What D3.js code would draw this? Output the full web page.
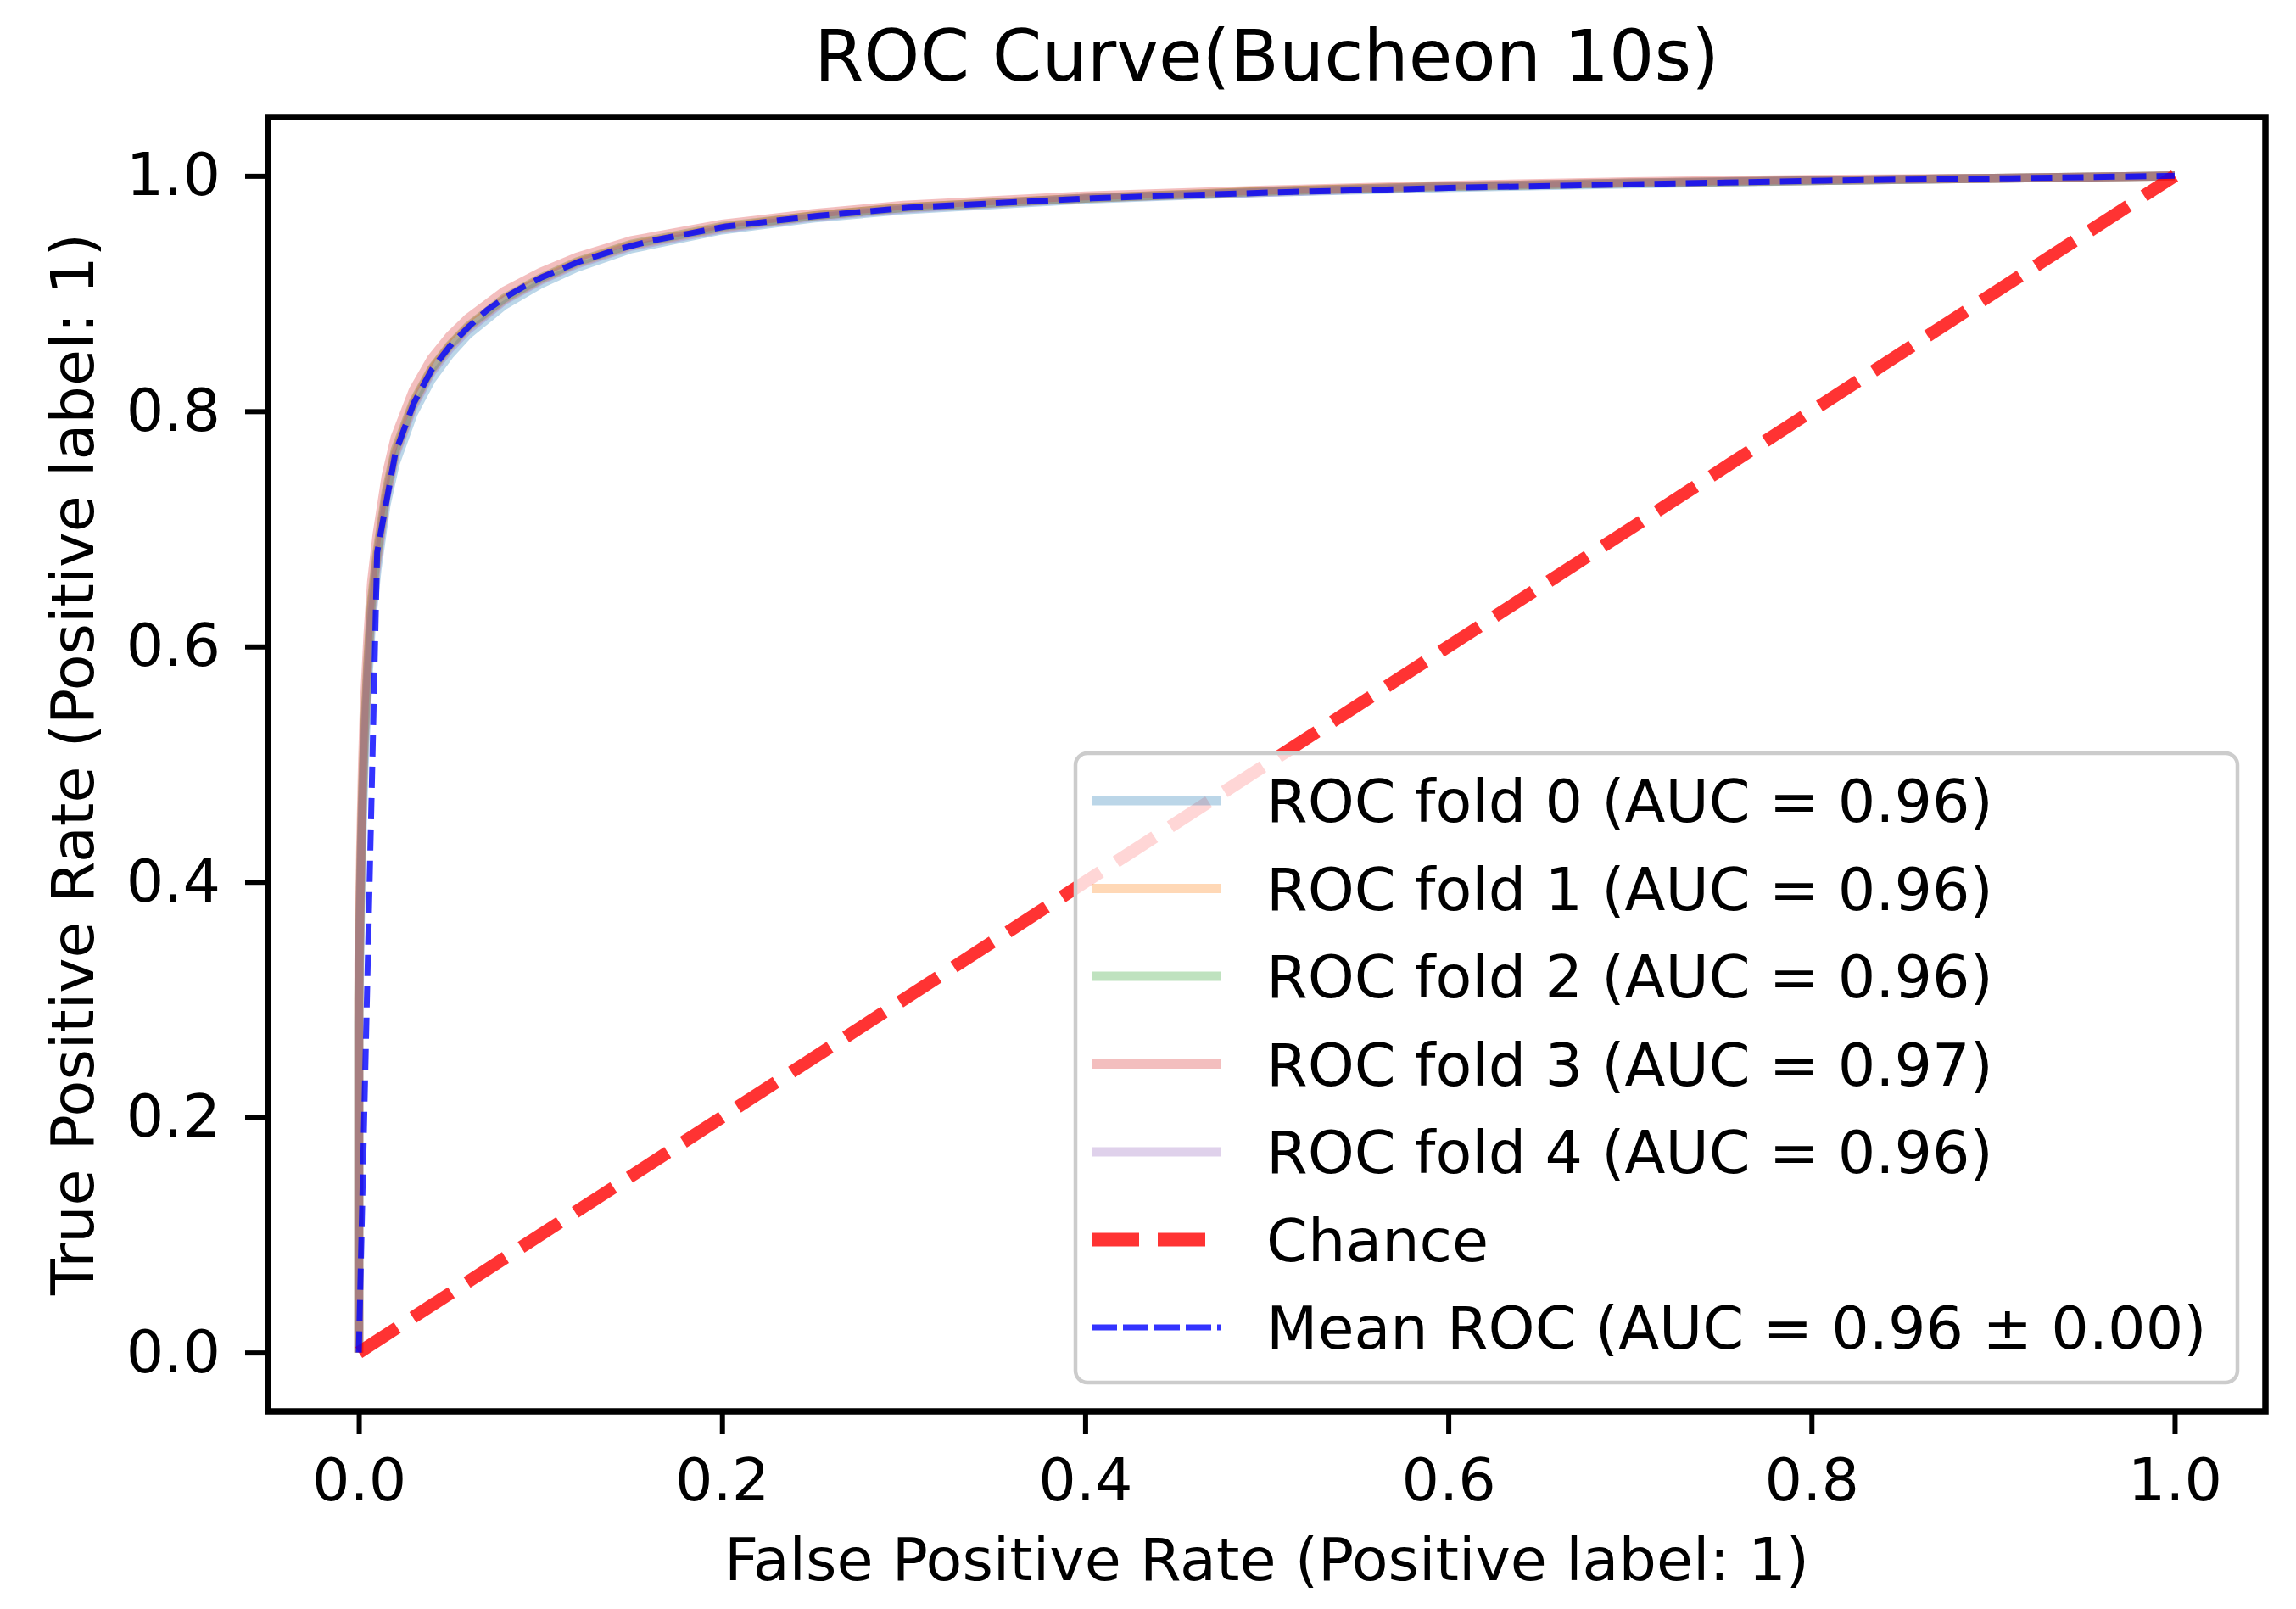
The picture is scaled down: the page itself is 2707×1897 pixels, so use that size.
<!DOCTYPE html>
<html>
<head>
<meta charset="utf-8">
<script src="https://cdn.jsdelivr.net/npm/d3@7/dist/d3.min.js"></script>
<style>
  body { margin: 0; background: #fff; }
  svg { display: block; font-family: "DejaVu Sans", sans-serif; }
</style>
</head>
<body>
<div id="chart"></div>
<script>
// fold curves as [fpr, tpr]
const fold0 = [[0,0],[0,0.28],[0.001,0.38],[0.002,0.45],[0.003,0.50],[0.005,0.57],[0.007,0.62],[0.010,0.665],[0.015,0.72],[0.020,0.755],[0.030,0.798],[0.040,0.827],[0.050,0.848],[0.060,0.865],[0.080,0.890],[0.100,0.908],[0.120,0.922],[0.150,0.938],[0.200,0.954],[0.250,0.964],[0.300,0.971],[0.400,0.980],[0.500,0.986],[0.600,0.990],[0.700,0.993],[0.800,0.996],[0.900,0.998],[1,1]];
const fold1 = [[0,0],[0,0.30],[0.001,0.40],[0.002,0.47],[0.003,0.52],[0.005,0.585],[0.007,0.635],[0.010,0.675],[0.015,0.728],[0.020,0.764],[0.030,0.806],[0.040,0.835],[0.050,0.855],[0.060,0.871],[0.080,0.895],[0.100,0.912],[0.120,0.926],[0.150,0.941],[0.200,0.956],[0.250,0.966],[0.300,0.973],[0.400,0.981],[0.500,0.987],[0.600,0.991],[0.700,0.994],[0.800,0.996],[0.900,0.998],[1,1]];
const fold2 = [[0,0],[0,0.31],[0.001,0.41],[0.002,0.475],[0.003,0.525],[0.005,0.59],[0.007,0.64],[0.010,0.68],[0.015,0.732],[0.020,0.767],[0.030,0.808],[0.040,0.836],[0.050,0.856],[0.060,0.872],[0.080,0.896],[0.100,0.913],[0.120,0.927],[0.150,0.942],[0.200,0.957],[0.250,0.966],[0.300,0.973],[0.400,0.981],[0.500,0.987],[0.600,0.991],[0.700,0.994],[0.800,0.996],[0.900,0.998],[1,1]];
const fold3 = [[0,0],[0,0.33],[0.001,0.43],[0.002,0.50],[0.003,0.55],[0.005,0.61],[0.007,0.655],[0.010,0.695],[0.015,0.745],[0.020,0.778],[0.030,0.818],[0.040,0.845],[0.050,0.864],[0.060,0.879],[0.080,0.902],[0.100,0.918],[0.120,0.931],[0.150,0.945],[0.200,0.959],[0.250,0.968],[0.300,0.975],[0.400,0.983],[0.500,0.988],[0.600,0.992],[0.700,0.995],[0.800,0.997],[0.900,0.998],[1,1]];
const fold4 = [[0,0],[0,0.30],[0.001,0.40],[0.002,0.465],[0.003,0.515],[0.005,0.58],[0.007,0.63],[0.010,0.672],[0.015,0.726],[0.020,0.762],[0.030,0.804],[0.040,0.833],[0.050,0.853],[0.060,0.869],[0.080,0.894],[0.100,0.911],[0.120,0.925],[0.150,0.940],[0.200,0.955],[0.250,0.965],[0.300,0.972],[0.400,0.981],[0.500,0.986],[0.600,0.991],[0.700,0.994],[0.800,0.996],[0.900,0.998],[1,1]];
const folds = [fold0, fold1, fold2, fold3, fold4];
const foldAuc = ['0.96', '0.96', '0.96', '0.97', '0.96'];
const foldColors = ['#1f77b4', '#ff7f0e', '#2ca02c', '#d62728', '#9467bd'];

// mean roc on the common fpr grid
const meanFpr = [0, 0.0101, 0.0202, 0.0303, 0.0404, 0.0505, 0.0606, 0.0707, 0.0808, 0.0909, 0.1010, 0.1212, 0.1414, 0.1616, 0.1818, 0.2020, 0.2525, 0.3030, 0.4040, 0.5051, 0.6061, 0.7071, 0.8081, 0.9091, 1];
const meanTpr = [0, 0.680, 0.765, 0.807, 0.836, 0.856, 0.872, 0.886, 0.897, 0.906, 0.914, 0.927, 0.937, 0.945, 0.951, 0.957, 0.966, 0.973, 0.981, 0.986, 0.990, 0.993, 0.996, 0.998, 1];
const meanLabel = 'Mean ROC (AUC = 0.96 \u00b1 0.00)';

const chance = [[0, 0], [1, 1]];
const ticks = [0, 0.2, 0.4, 0.6, 0.8, 1.0];

const W = 2707, H = 1897;
const frame = {left: 316, right: 2671, top: 138, bottom: 1664};
const fs = 70;

const svg = d3.select('#chart').append('svg')
  .attr('width', W)
  .attr('height', H);

const x = d3.scaleLinear().domain([-0.05, 1.05]).range([frame.left, frame.right]);
const y = d3.scaleLinear().domain([-0.05, 1.05]).range([frame.bottom, frame.top]);

const line = d3.line().x(d => x(d[0])).y(d => y(d[1]));

const plot = svg.append('g');

// folds
folds.forEach((f, i) => {
  plot.append('path')
    .attr('d', line(f))
    .attr('fill', 'none')
    .attr('stroke', foldColors[i])
    .attr('stroke-opacity', 0.3)
    .attr('stroke-width', 10.5);
});

// chance diagonal
plot.append('path')
  .attr('d', line(chance))
  .attr('fill', 'none')
  .attr('stroke', 'red')
  .attr('stroke-opacity', 0.8)
  .attr('stroke-width', 15)
  .attr('stroke-dasharray', '54,22');

// mean
plot.append('path')
  .attr('d', line(meanFpr.map((v, i) => [v, meanTpr[i]])))
  .attr('fill', 'none')
  .attr('stroke', 'blue')
  .attr('stroke-opacity', 0.8)
  .attr('stroke-width', 7)
  .attr('stroke-dasharray', '25,12');

// axes
const xAxis = svg.append('g')
  .attr('transform', `translate(0,${frame.bottom})`)
  .call(d3.axisBottom(x).tickValues(ticks).tickFormat(d3.format('.1f')).tickSize(27).tickPadding(28).tickSizeOuter(0));
const yAxis = svg.append('g')
  .attr('transform', `translate(${frame.left},0)`)
  .call(d3.axisLeft(y).tickValues(ticks).tickFormat(d3.format('.1f')).tickSize(27).tickPadding(29).tickSizeOuter(0));

[xAxis, yAxis].forEach(a => {
  a.select('.domain').remove();
  a.selectAll('.tick line').attr('stroke', '#000').attr('stroke-width', 6);
  a.selectAll('.tick text')
    .attr('fill', '#000')
    .style('font-size', `${fs}px`)
    .style('font-family', '"DejaVu Sans", sans-serif');
});

svg.append('rect')
  .attr('x', frame.left)
  .attr('y', frame.top)
  .attr('width', frame.right - frame.left)
  .attr('height', frame.bottom - frame.top)
  .attr('fill', 'none')
  .attr('stroke', '#000')
  .attr('stroke-width', 7.5);

// legend
const legendItems = folds.map((f, i) => ({
  label: `ROC fold ${i} (AUC = ${foldAuc[i]})`,
  color: foldColors[i], opacity: 0.3, width: 11, dash: null
})).concat([
  {label: 'Chance', color: 'red', opacity: 0.8, width: 16, dash: '56,22'},
  {label: meanLabel, color: 'blue', opacity: 0.8, width: 7, dash: '30,7'}
]);

const lg = svg.append('g');
lg.append('rect')
  .attr('x', 1268)
  .attr('y', 888)
  .attr('width', 1370)
  .attr('height', 742)
  .attr('rx', 14)
  .attr('fill', '#fff')
  .attr('fill-opacity', 0.8)
  .attr('stroke', '#cccccc')
  .attr('stroke-width', 4.5);

const rows = lg.selectAll('.row')
  .data(legendItems)
  .enter()
  .append('g')
    .attr('class', 'row')
    .attr('transform', (d, i) => `translate(0,${944 + i * 103.5})`);

rows.append('line')
  .attr('x1', 1287)
  .attr('x2', 1440)
  .attr('stroke', d => d.color)
  .attr('stroke-opacity', d => d.opacity)
  .attr('stroke-width', d => d.width)
  .attr('stroke-dasharray', d => d.dash);

rows.append('text')
  .attr('x', 1493)
  .attr('dy', '0.36em')
  .style('font-size', `${fs}px`)
  .text(d => d.label);

// titles
svg.append('text')
  .attr('x', (frame.left + frame.right) / 2)
  .attr('y', 95)
  .attr('text-anchor', 'middle')
  .style('font-size', '84px')
  .text('ROC Curve(Bucheon 10s)');

svg.append('text')
  .attr('x', (frame.left + frame.right) / 2)
  .attr('y', 1863)
  .attr('text-anchor', 'middle')
  .style('font-size', `${fs}px`)
  .text('False Positive Rate (Positive label: 1)');

svg.append('text')
  .attr('transform', `translate(110,${(frame.top + frame.bottom) / 2}) rotate(-90)`)
  .attr('text-anchor', 'middle')
  .style('font-size', `${fs}px`)
  .text('True Positive Rate (Positive label: 1)');
</script>
</body>
</html>
